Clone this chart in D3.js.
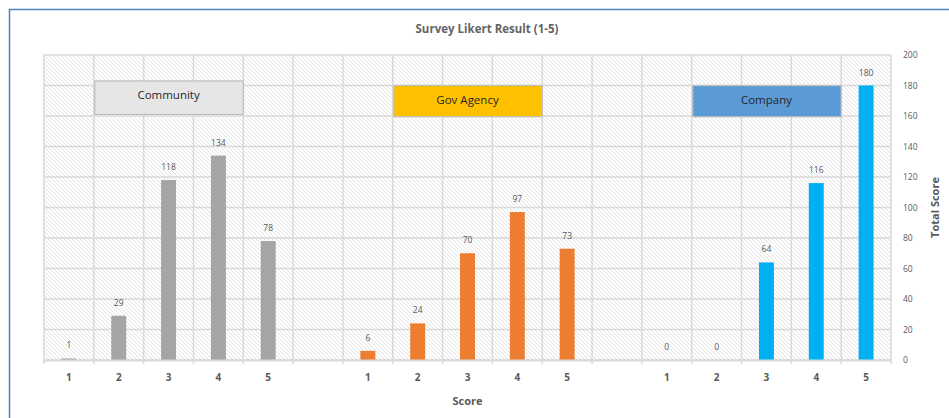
<!DOCTYPE html>
<html>
<head>
<meta charset="utf-8">
<script src="https://cdn.jsdelivr.net/npm/d3@7"></script>
<style>
  body { margin: 0; background: #fff; }
  text { font-family: "Open Sans", "Noto Sans", sans-serif; }
</style>
</head>
<body>
<svg id="chart" width="949" height="418"></svg>
<script>
// data
var groups = ["Community", "Gov Agency", "Company"];
var scores = ["1", "2", "3", "4", "5"];
var communityValues = [1, 29, 118, 134, 78];
var govValues = [6, 24, 70, 97, 73];
var companyValues = [0, 0, 64, 116, 180];
var groupColors = ["#a5a5a5", "#ed7d31", "#00b0f0"];
var boxColors = ["#e7e6e6", "#ffc000", "#5b9bd5"];
var yTicks = [0, 20, 40, 60, 80, 100, 120, 140, 160, 180, 200];

var svg = d3.select("#chart"),
  margin = { top: 55, right: 58, bottom: 58, left: 44 },
  width = +svg.attr("width"),
  height = +svg.attr("height"),
  domainwidth = width - margin.left - margin.right,
  domainheight = height - margin.top - margin.bottom;

// build slots: 5 scores, a gap, 5 scores, a gap, 5 scores
var allValues = [communityValues, govValues, companyValues];
var slots = [];
groups.forEach(function (g, gi) {
  scores.forEach(function (s, si) {
    slots.push({ key: gi + "-" + s, label: s, group: gi, value: allValues[gi][si] });
  });
  if (gi < groups.length - 1) slots.push({ key: "gap" + gi, label: "", group: -1 });
});

var x = d3.scaleBand()
  .domain(slots.map(function (d) { return d.key; }))
  .range([0, domainwidth])
  .paddingInner(0)
  .paddingOuter(0);

var y = d3.scaleLinear()
  .domain([0, 200])
  .range([domainheight, 0]);

// outer chart border
svg.append("rect")
  .attr("x", 9.5).attr("y", 9.5)
  .attr("width", width + 20).attr("height", height + 20)
  .attr("fill", "none")
  .attr("stroke", "#4f81bd")
  .attr("stroke-width", 1.5);

// hatch pattern
var defs = svg.append("defs");
var pat = defs.append("pattern")
  .attr("id", "hatch")
  .attr("patternUnits", "userSpaceOnUse")
  .attr("width", 4).attr("height", 4);
pat.append("rect").attr("width", 4).attr("height", 4).attr("fill", "#fff");
pat.append("path")
  .attr("d", "M-1,-1 L5,5 M-1,3 L1,5 M3,-1 L5,1")
  .attr("stroke", "#dadada")
  .attr("stroke-width", 0.8);

svg.append("text")
  .attr("x", 487)
  .attr("y", 33)
  .attr("text-anchor", "middle")
  .attr("font-size", 11.5)
  .attr("font-weight", "bold")
  .attr("fill", "#646464")
  .text("Survey Likert Result (1-5)");

var g = svg.append("g")
  .attr("transform", "translate(" + margin.left + "," + margin.top + ")");

g.append("rect")
  .attr("width", domainwidth)
  .attr("height", domainheight)
  .attr("fill", "url(#hatch)");

// horizontal gridlines
g.selectAll("line.hgrid")
  .data(yTicks)
  .enter().append("line")
  .attr("class", "hgrid")
  .attr("x1", 0).attr("x2", domainwidth)
  .attr("y1", function (d) { return y(d); })
  .attr("y2", function (d) { return y(d); })
  .attr("stroke", "#d9d9d9")
  .attr("stroke-width", 1.5);

// vertical gridlines at slot boundaries
var bounds = slots.map(function (d) { return x(d.key); }).concat([domainwidth]);
g.selectAll("line.vgrid")
  .data(bounds)
  .enter().append("line")
  .attr("class", "vgrid")
  .attr("x1", function (d) { return d; })
  .attr("x2", function (d) { return d; })
  .attr("y1", 0).attr("y2", domainheight + 4)
  .attr("stroke", "#d9d9d9")
  .attr("stroke-width", 1.5);

// group label boxes spanning scores 2..4
groups.forEach(function (name, gi) {
  var x0 = x(gi + "-2"), x1 = x(gi + "-4") + x.bandwidth();
  var top = gi === 0 ? 183 : 180, bottom = gi === 0 ? 161 : 159.5;
  g.append("rect")
    .attr("x", x0 + 1)
    .attr("y", y(top))
    .attr("width", x1 - x0 - 1)
    .attr("height", y(bottom) - y(top))
    .attr("fill", boxColors[gi])
    .attr("stroke", "#bfbfbf")
    .attr("stroke-width", 1.2);
  g.append("text")
    .attr("x", (x0 + x1) / 2)
    .attr("y", y(top) + 18.5)
    .attr("text-anchor", "middle")
    .attr("font-size", 11.5)
    .attr("fill", "#262626")
    .text(name);
});

// bars
var data = slots.filter(function (d) { return d.group >= 0; });
var bw = x.bandwidth() * 0.3;
g.selectAll("rect.bar")
  .data(data)
  .enter().append("rect")
  .attr("class", "bar")
  .attr("x", function (d) { return x(d.key) + (x.bandwidth() - bw) / 2; })
  .attr("y", function (d) { return y(d.value); })
  .attr("width", bw)
  .attr("height", function (d) { return domainheight - y(d.value); })
  .attr("fill", function (d) { return groupColors[d.group]; });

g.selectAll("text.label")
  .data(data)
  .enter().append("text")
  .attr("class", "label")
  .attr("x", function (d) { return x(d.key) + x.bandwidth() / 2; })
  .attr("y", function (d) { return y(d.value) - 10; })
  .attr("text-anchor", "middle")
  .attr("font-size", 8.5)
  .attr("fill", "#595959")
  .text(function (d) { return d.value; });

// x axis
var xAxis = g.append("g")
  .attr("class", "x axis")
  .attr("transform", "translate(0," + domainheight + ")")
  .call(d3.axisBottom(x).tickSize(0).tickPadding(14)
    .tickFormat(function (k) { return slots.find(function (s) { return s.key === k; }).label; }));
xAxis.select(".domain").attr("stroke", "#d9d9d9").attr("stroke-width", 2);
xAxis.selectAll("text")
  .attr("font-size", 10)
  .attr("font-weight", "bold")
  .attr("fill", "#595959")
  .style("font-family", "'Open Sans', sans-serif");

// y axis (right)
var yAxis = g.append("g")
  .attr("class", "y axis")
  .attr("transform", "translate(" + domainwidth + ",0)")
  .call(d3.axisRight(y).tickValues(yTicks).tickSize(0).tickPadding(12));
yAxis.select(".domain").remove();
yAxis.selectAll("text")
  .attr("font-size", 8.5)
  .attr("fill", "#595959")
  .style("font-family", "'Open Sans', sans-serif");

// axis titles
svg.append("text")
  .attr("text-anchor", "middle")
  .attr("transform", "translate(" + (margin.left + domainwidth / 2) + "," + 405 + ")")
  .attr("font-size", 11)
  .attr("font-weight", "bold")
  .attr("fill", "#595959")
  .text("Score");

svg.append("text")
  .attr("text-anchor", "middle")
  .attr("transform", "translate(" + 939 + "," + (margin.top + domainheight / 2) + ")rotate(-90)")
  .attr("font-size", 11)
  .attr("font-weight", "bold")
  .attr("fill", "#595959")
  .text("Total Score");
</script>
</body>
</html>
